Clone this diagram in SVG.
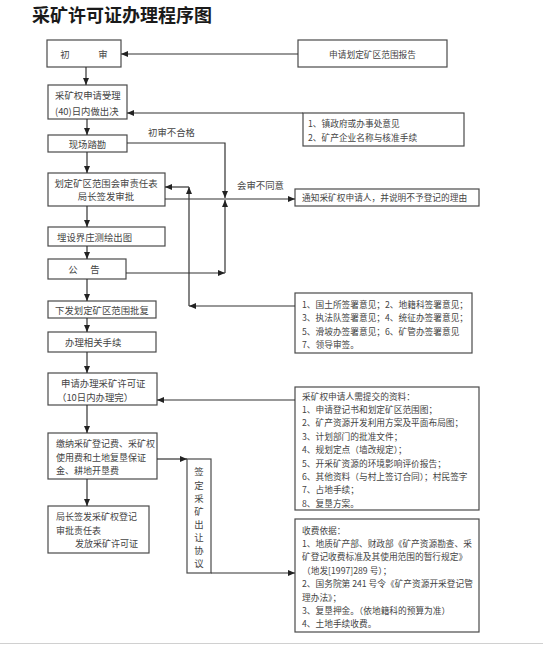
<svg xmlns="http://www.w3.org/2000/svg" width="543" height="645" viewBox="0 0 543 645">
<style>
.box{fill:#fff;stroke:#4a4a4a;stroke-width:1.2}
.t{font-family:"Noto Sans CJK SC","Noto Sans",sans-serif;font-size:9.4px;fill:#444;dominant-baseline:central}
.r{font-size:8.7px}
.s{font-size:9px}
.c{text-anchor:middle}
.ln{stroke:#333;stroke-width:1.2;fill:none}
.ar{marker-end:url(#a)}
.title{font-family:"Noto Sans CJK SC","Noto Sans",sans-serif;font-size:18px;font-weight:bold;fill:#1a1a1a}
</style>
<defs>
<marker id="a" markerUnits="userSpaceOnUse" markerWidth="7" markerHeight="6" refX="7" refY="3" orient="auto">
<path d="M0,0 L7,3 L0,6 z" fill="#222"/>
</marker>
</defs>
<rect width="543" height="645" fill="#fff"/>
<text class="title" x="32" y="22">采矿许可证办理程序图</text>

<g id="n-chushen"><rect class="box" x="47" y="40" width="74" height="27"/><text class="t c" x="65 103" y="54">初审</text></g>
<g id="n-baogao"><rect class="box" x="298" y="40" width="149" height="27"/><text class="t r c" x="372.5" y="54">申请划定矿区范围报告</text></g>
<g id="n-shouli"><rect class="box" x="48" y="85" width="79" height="34"/><text class="t" x="55" y="95">采矿权申请受理</text><text class="t" x="55" y="111">(40)日内做出决</text></g>
<g id="n-zhenzhengfu"><rect class="box" x="303" y="113" width="161" height="33"/><text class="t r" x="308" y="123">1、镇政府或办事处意见</text><text class="t r" x="308" y="137">2、矿产企业名称与核准手续</text></g>
<g id="n-kancha"><rect class="box" x="48" y="135" width="79" height="17"/><text class="t c" x="87.5" y="143.5">现场踏勘</text></g>
<g id="n-huiding"><rect class="box" x="48" y="173" width="117" height="33"/><text class="t c" x="106" y="183">划定矿区范围会审责任表</text><text class="t c" x="106" y="196">局长签发审批</text></g>
<g id="n-tongzhi"><rect class="box" x="295" y="189" width="184" height="17"/><text class="t r" x="302" y="197.5">通知采矿权申请人，并说明不予登记的理由</text></g>
<g id="n-maishe"><rect class="box" x="48" y="227" width="117" height="19"/><text class="t" x="57" y="236.5">埋设界庄测绘出图</text></g>
<g id="n-gonggao"><rect class="box" x="48" y="259" width="78" height="20"/><text class="t c" x="73 95" y="269">公告</text></g>
<g id="n-yijian"><rect class="box" x="295" y="293" width="177" height="60"/><text class="t r" x="302" y="304">1、国土所签署意见；2、地籍科签署意见；</text><text class="t r" x="302" y="317.5">3、执法队签署意见；4、统征办签署意见；</text><text class="t r" x="302" y="331">5、滑坡办签署意见；6、矿管办签署意见</text><text class="t r" x="302" y="344">7、领导审签。</text></g>
<g id="n-pifu"><rect class="box" x="48" y="301" width="108" height="17"/><text class="t c" x="102" y="309.5">下发划定矿区范围批复</text></g>
<g id="n-shouxu"><rect class="box" x="48" y="332" width="108" height="20"/><text class="t" x="65" y="342">办理相关手续</text></g>
<g id="n-shenqing"><rect class="box" x="48" y="373" width="109" height="32"/><text class="t" x="61" y="383">申请办理采矿许可证</text><text class="t" x="57" y="397">（10日内办理完）</text></g>
<g id="n-ziliao"><rect class="box" x="295" y="387" width="184" height="123"/>
<text class="t r" x="302" y="396">采矿权申请人需提交的资料：</text>
<text class="t r" x="302" y="409.4">1、申请登记书和划定矿区范围图；</text>
<text class="t r" x="302" y="422.8">2、矿产资源开发利用方案及平面布局图；</text>
<text class="t r" x="302" y="436.2">3、计划部门的批准文件；</text>
<text class="t r" x="302" y="449.6">4、规划定点（墙改规定）；</text>
<text class="t r" x="302" y="463">5、开采矿资源的环境影响评价报告；</text>
<text class="t r" x="302" y="476.4">6、其他资料（与村上签订合同）；村民签字</text>
<text class="t r" x="302" y="489.8">7、占地手续；</text>
<text class="t r" x="302" y="503.2">8、复垦方案。</text></g>
<g id="n-jiaona"><rect class="box" x="48" y="433" width="109" height="46"/><text class="t s" x="56" y="443">缴纳采矿登记费、采矿权</text><text class="t s" x="56" y="457">使用费和土地复垦保证</text><text class="t s" x="56" y="470">金、耕地开垦费</text></g>
<g id="n-xieyi"><rect class="box" x="187" y="459" width="24" height="114"/><text class="t c" x="199" y="471">签</text><text class="t c" x="199" y="484.5">定</text><text class="t c" x="199" y="497.5">采</text><text class="t c" x="199" y="510.5">矿</text><text class="t c" x="199" y="523.5">出</text><text class="t c" x="199" y="537">让</text><text class="t c" x="199" y="550">协</text><text class="t c" x="199" y="563">议</text></g>
<g id="n-fafang"><rect class="box" x="48" y="506" width="101" height="47"/><text class="t s" x="56" y="516">局长签发采矿权登记</text><text class="t s" x="56" y="530">审批责任表</text><text class="t s" x="75" y="543">发放采矿许可证</text></g>
<g id="n-shoufei"><rect class="box" x="295" y="519" width="184" height="113"/>
<text class="t r" x="302" y="530">收费依据：</text>
<text class="t r" x="302" y="543.4">1、地质矿产部、财政部《矿产资源勘查、采</text>
<text class="t r" x="302" y="556.8">矿登记收费标准及其使用范围的暂行规定》</text>
<text class="t r" x="302" y="570.2">（地发[1997]289 号）；</text>
<text class="t r" x="302" y="583.6">2、国务院第 241 号令《矿产资源开采登记管</text>
<text class="t r" x="302" y="597">理办法》；</text>
<text class="t r" x="302" y="610.4">3、复垦押金。（依地籍科的预算为准）</text>
<text class="t r" x="302" y="623.8">4、土地手续收费。</text></g>

<g id="connectors">
<line class="ln ar" x1="298" y1="54" x2="121" y2="54"/>
<line class="ln ar" x1="86" y1="67" x2="86" y2="85"/>
<line class="ln ar" x1="303" y1="113" x2="127" y2="113"/>
<line class="ln ar" x1="87" y1="119" x2="87" y2="135"/>
<line class="ln ar" x1="87" y1="152" x2="87" y2="173"/>
<polyline class="ln ar" points="127,143 225,143 225,198"/>
<polyline class="ln ar" points="126,273 225,273"/>
<line class="ln ar" x1="225" y1="273" x2="225" y2="200"/>
<line class="ln ar" x1="165" y1="199" x2="295" y2="199"/>
<line class="ln ar" x1="295" y1="306" x2="189" y2="306"/>
<line class="ln ar" x1="189" y1="306" x2="189" y2="187"/>
<line class="ln ar" x1="189" y1="187" x2="165" y2="187"/>
<line class="ln ar" x1="87" y1="206" x2="87" y2="227"/>
<line class="ln ar" x1="87" y1="246" x2="87" y2="259"/>
<line class="ln ar" x1="87" y1="279" x2="87" y2="301"/>
<line class="ln ar" x1="87" y1="318" x2="87" y2="332"/>
<line class="ln ar" x1="87" y1="352" x2="87" y2="373"/>
<line class="ln ar" x1="295" y1="400" x2="157" y2="400"/>
<line class="ln ar" x1="87" y1="405" x2="87" y2="433"/>
<line class="ln ar" x1="157" y1="459" x2="187" y2="459"/>
<line class="ln ar" x1="87" y1="479" x2="87" y2="506"/>
<line class="ln ar" x1="211" y1="573" x2="295" y2="573"/>
<text class="t" x="148" y="132">初审不合格</text>
<text class="t" x="237" y="185">会审不同意</text>
</g>
<line x1="0" y1="643.5" x2="543" y2="643.5" stroke="#d0d0d0" stroke-width="1"/>
</svg>
